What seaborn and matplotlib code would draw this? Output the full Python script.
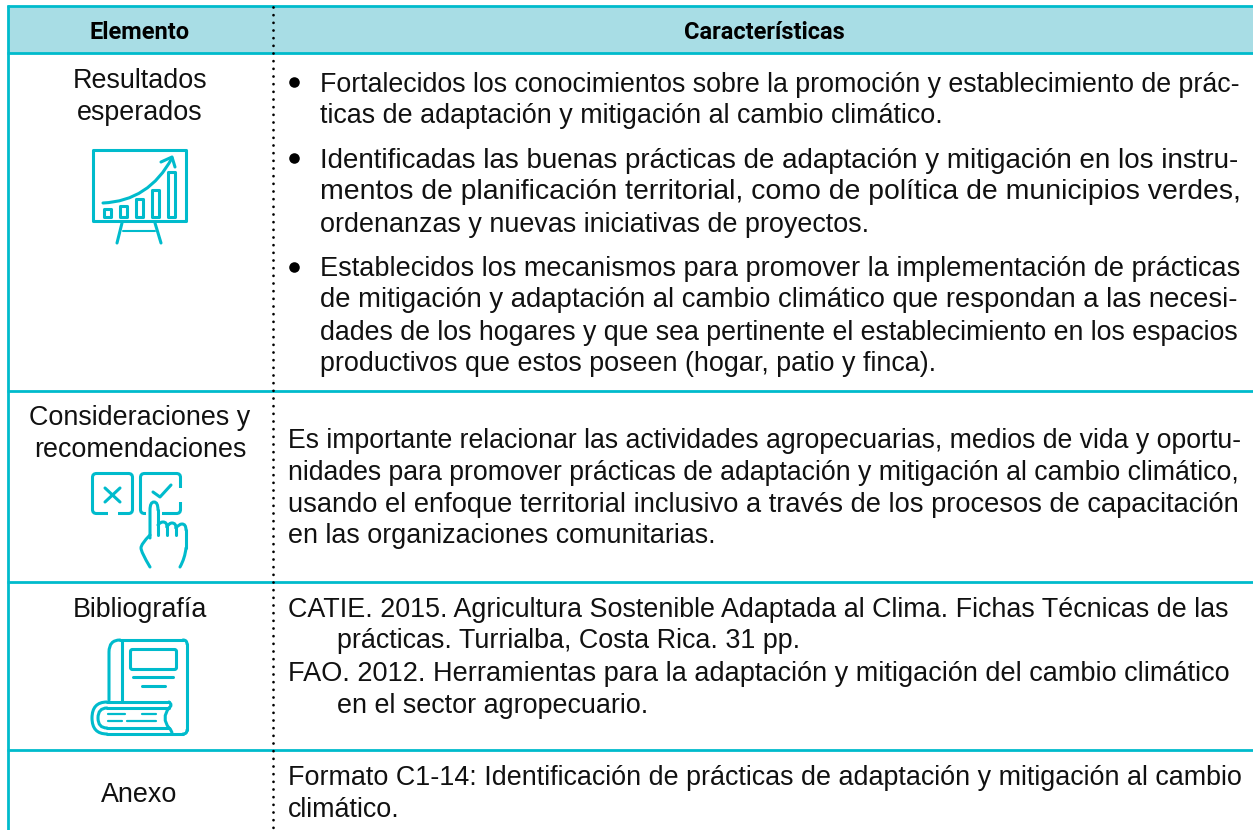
import matplotlib
matplotlib.use("Agg")
import seaborn as sns
import matplotlib.pyplot as plt
from matplotlib.patches import Rectangle, FancyBboxPatch, PathPatch
from matplotlib.path import Path

sns.set_theme(style="white")
plt.rcParams['font.family'] = ['Liberation Sans', 'DejaVu Sans']

W, H = 1253, 830
TEAL = "#00BBCC"
HEAD = "#A8DDE5"
INK = "#111111"
FS = 19.4
ICON_LW = 2.2
RIGHT = 1238

headers = ["Elemento", "Características"]
elements = ["Resultados", "esperados", "Consideraciones y", "recomendaciones", "Bibliografía", "Anexo"]
bullet_lines = [
    "Fortalecidos los conocimientos sobre la promoción y establecimiento de prác-",
    "ticas de adaptación y mitigación al cambio climático.",
    "Identificadas las buenas prácticas de adaptación y mitigación en los instru-",
    "mentos de planificación territorial, como de política de municipios verdes,",
    "ordenanzas y nuevas iniciativas de proyectos.",
    "Establecidos los mecanismos para promover la implementación de prácticas",
    "de mitigación y adaptación al cambio climático que respondan a las necesi-",
    "dades de los hogares y que sea pertinente el establecimiento en los espacios",
    "productivos que estos poseen (hogar, patio y finca).",
]
note_lines = [
    "Es importante relacionar las actividades agropecuarias, medios de vida y oportu-",
    "nidades para promover prácticas de adaptación y mitigación al cambio climático,",
    "usando el enfoque territorial inclusivo a través de los procesos de capacitación",
    "en las organizaciones comunitarias.",
]
biblio_lines = [
    "CATIE. 2015. Agricultura Sostenible Adaptada al Clima. Fichas Técnicas de las",
    "prácticas. Turrialba, Costa Rica. 31 pp.",
    "FAO. 2012. Herramientas para la adaptación y mitigación del cambio climático",
    "en el sector agropecuario.",
]
annex_lines = [
    "Formato C1-14: Identificación de prácticas de adaptación y mitigación al cambio",
    "climático.",
]

fig = plt.figure(figsize=(W / 100, H / 100), dpi=100)
ax = fig.add_axes([0, 0, 1, 1])
ax.set_xlim(0, W)
ax.set_ylim(H, 0)
ax.axis("off")
renderer = fig.canvas.get_renderer()


def line(txt, x, y, right=None):
    t = ax.text(x, y, txt, ha="left", va="baseline", fontsize=FS, color=INK)
    if right is not None:
        width = t.get_window_extent(renderer).width
        t.set_fontsize(FS * (right - x) / width)
    return t


def poly(xs, ys, lw=ICON_LW, z=4):
    ax.plot(xs, ys, color=TEAL, lw=lw, solid_capstyle="round", solid_joinstyle="round", zorder=z)


def curve(*pts, lw=ICON_LW, z=4):
    codes = [Path.MOVETO] + [Path.CURVE3] * (len(pts) - 1)
    ax.add_patch(PathPatch(Path(pts, codes), fc="none", ec=TEAL, lw=lw, capstyle="round", zorder=z))


def rbox(x, y, w, h, r=3, lw=ICON_LW):
    ax.add_patch(FancyBboxPatch((x + r, y + r), w - 2 * r, h - 2 * r,
                                boxstyle=f"round,pad={r},rounding_size={r}",
                                ec=TEAL, fc="none", lw=lw, zorder=2))


# header band and frame
ax.add_patch(Rectangle((8, 6), W - 8, 47, fc=HEAD, ec="none"))
for y in [6.5, 53.5, 390.5, 582, 750]:
    ax.plot([7, W], [y, y], color=TEAL, lw=2.0, solid_capstyle="butt")
ax.plot([8, 8], [5.5, H], color=TEAL, lw=2.0, solid_capstyle="butt")
ax.plot([272.5, 272.5], [7, H], color="black", lw=2.0, ls=(0, (0.01, 2.75)),
        dash_capstyle="round", zorder=5)

for name, x in zip(headers, [140, 764]):
    ax.text(x, 39, name, ha="center", va="baseline", fontsize=17, fontweight="bold",
            family=["Roboto", "DejaVu Sans"], color="black")

# left column labels
for txt, x, y in zip(elements, [140, 140, 140, 140, 140, 139], [88, 120, 425, 457, 617, 802]):
    ax.text(x, y, txt, ha="center", va="baseline", fontsize=FS, color=INK)

# bullet paragraphs
for y in [82, 158, 267]:
    ax.plot([294], [y], "o", color="black", ms=7.6, mew=0)
bullet_y = [92, 123, 168, 199, 232, 276, 307, 340, 371]
bullet_right = [RIGHT, None, RIGHT, RIGHT, None, RIGHT, RIGHT, RIGHT, None]
for txt, y, r in zip(bullet_lines, bullet_y, bullet_right):
    line(txt, 320, y, r)

for txt, y, r in zip(note_lines, [448, 480, 512, 543], [RIGHT, RIGHT, RIGHT, None]):
    line(txt, 288, y, r)
for txt, x, y, r in zip(biblio_lines, [288, 337, 288, 337], [617, 648, 681, 713], [1225, None, 1225, None]):
    line(txt, x, y, r)
for txt, y, r in zip(annex_lines, [785, 817], [RIGHT, None]):
    line(txt, 288, y, r)

# presentation-board icon
ax.add_patch(Rectangle((92.5, 150.5), 93, 71, fc="none", ec=TEAL, lw=ICON_LW, joinstyle="round"))
poly([122, 117], [223, 243])
poly([155, 161], [223, 243])
poly([123, 155], [231, 231], lw=1.5)
for x, y in [(103.5, 209), (119.5, 206), (135.5, 199), (151.5, 190), (167.5, 172)]:
    ax.add_patch(Rectangle((x, y), 7, 217 - y, fc="none", ec=TEAL, lw=ICON_LW, joinstyle="round"))
curve((103, 203), (149, 201), (172, 158))
poly([161, 172, 175], [162, 157, 167])

# choice-boxes icon
rbox(92.5, 473.5, 40, 40, r=4)
rbox(140.5, 473.5, 40, 40, r=4)
poly([105, 120], [488, 502])
poly([120, 105], [488, 502])
poly([153, 160, 171], [492, 497, 485])
ax.add_patch(Rectangle((107.5, 510), 10, 6, fc="white", ec="none", zorder=3))
ax.add_patch(Rectangle((177, 488), 7, 14, fc="white", ec="none", zorder=3))
ax.add_patch(Rectangle((146, 504), 16, 12, fc="white", ec="none", zorder=3))
poly([112.5, 112.7], [513.5, 513.5])
poly([180.5, 180.5], [493, 493.2])
curve((150, 538), (150, 520), (150, 510), (150, 502), (154, 502), (158, 502), (158, 510))
poly([158, 158], [510, 535])
curve((158, 525), (160, 522), (163, 522), (167, 522), (167, 527))
poly([167, 167], [527, 535])
curve((167, 527), (169, 523), (172, 523), (176, 523), (176, 528))
poly([176, 176], [528, 535])
curve((176, 528), (179, 524), (182, 524), (186, 524), (186, 530))
poly([186, 186], [530, 548])
curve((186, 548), (185, 558), (180, 567))
curve((150, 535), (141, 544), (141, 548), (141, 552), (150, 567))

# book icon
curve((109, 700), (109, 672), (109, 652), (109, 640), (120, 640))
poly([120, 183], [640, 640])
curve((183, 640), (187, 640), (187, 644))
poly([187, 187], [644, 730])
curve((187, 730), (187, 734), (183, 734))
poly([183, 172], [734, 734])
poly([122, 122], [641, 701])
rbox(130.5, 649.5, 46, 20, r=2)
poly([133, 173], [677, 677])
poly([142, 165], [685.5, 685.5])
poly([107, 169], [702, 702])
curve((169, 702), (173, 705), (169, 708))
poly([169, 107], [708, 708])
curve((107, 702), (92, 702), (92, 718), (92, 734), (107, 734))
poly([107, 172], [734, 734])
curve((107, 708), (98, 708), (98, 718), (98, 728), (107, 728))
poly([107, 169], [728, 728])
curve((169, 708), (161, 718), (169, 728))
curve((169, 728), (172, 730), (172, 734))
poly([108, 125], [714, 714], lw=1.6)
poly([142, 156], [714, 714], lw=1.6)
poly([108, 122], [720.5, 720.5], lw=1.6)
poly([127, 156], [720.5, 720.5], lw=1.6)

fig.savefig("out.png", dpi=100)
